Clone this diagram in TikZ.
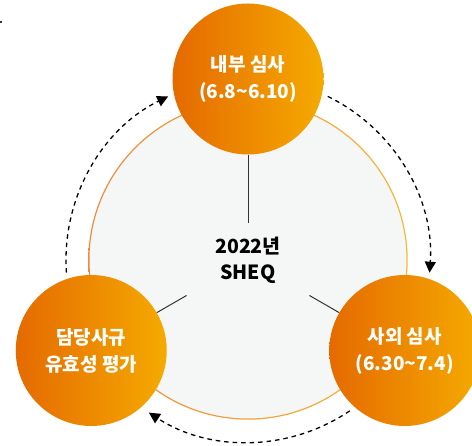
\documentclass[tikz,border=0pt]{standalone}
\usepackage{fontspec}
\newfontfamily\kr{Noto Sans CJK KR}
\usetikzlibrary{arrows.meta,calc}
\definecolor{oL}{HTML}{E56A00}
\definecolor{oR}{HTML}{F5AA00}
\definecolor{bL}{HTML}{EF8A3C}
\definecolor{bR}{HTML}{F5B83A}
\definecolor{bg}{HTML}{F5F7F7}
\definecolor{ln}{HTML}{333333}
\tikzset{
  stage/.style={circle, minimum size=151pt, inner sep=0pt, left color=oL, right color=oR,
    text=white, align=center, font=\kr\bfseries\fontsize{19}{27}\selectfont},
  cyc/.style={dash pattern=on 4.5pt off 4pt, line width=1.3pt, black,
    -{Triangle[length=11pt,width=11pt]}},
  spoke/.style={ln, line width=1pt},
  hub/.style={align=center, text=black, font=\kr\bfseries\fontsize{19.5}{26}\selectfont}
}
\begin{document}
\begin{tikzpicture}[x=1pt,y=1pt]
\useasboundingbox (0,0) rectangle (472,446);
\coordinate (c) at (248,186);
% big circle
\fill[bg] (c) circle (159);
\shade[left color=bL, right color=bR, even odd rule] (c) circle (159.7) (c) circle (158.5);
% dot artifact
\fill[black!80] (0,422.5) rectangle (2,424.5);
% hub text
\node[hub] (hubtext) at ($(c)+(0,0)$) {2022년\\SHEQ};
% spoke ends
\coordinate (s1) at ($(c)+(90:37)$);
\coordinate (s2) at ($(c)+(210:71)$);
\coordinate (s3) at ($(c)+(330:71)$);
% stages
\node[stage] (top) at ($(c)+(90:181)$) {내부 심사\\(6.8\textasciitilde6.10)};
\node[stage] (left) at ($(c)+(210:181)$) {담당사규\\유효성 평가};
\node[stage] (right) at ($(c)+(330:181)$) {사외 심사\\(6.30\textasciitilde7.4)};
% spokes
\draw[spoke] (top.south) -- (s1);
\draw[spoke] (left.30) -- (s2);
\draw[spoke] (right.150) -- (s3);
% cycle arrows
\coordinate (a1) at ($(c)+(184:182)$);
\coordinate (a2) at ($(c)+(64:182)$);
\coordinate (a3) at ($(c)+(-56:182)$);
\draw[cyc] (a1) arc[start angle=184, end angle=116, radius=182];
\draw[cyc] (a2) arc[start angle=64, end angle=-4, radius=182];
\draw[cyc] (a3) arc[start angle=-56, end angle=-123, radius=182];
\end{tikzpicture}
\end{document}
